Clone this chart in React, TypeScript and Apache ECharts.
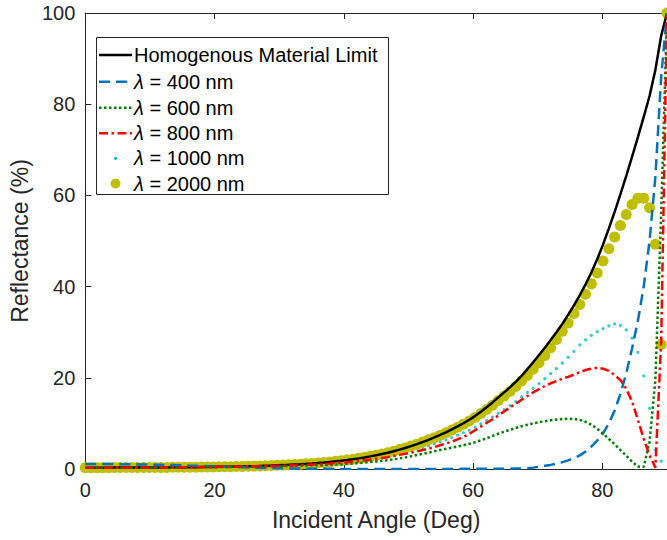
import React, { useEffect, useRef } from "react";
import * as echarts from "echarts";

// Incident angle sampling grid (deg)
const angles = [
  0, 0.9, 1.8, 2.7, 3.6, 4.5, 5.4, 6.3, 7.2, 8.1,
  9, 9.9, 10.8, 11.7, 12.6, 13.5, 14.4, 15.3, 16.2, 17.1,
  18, 18.9, 19.8, 20.7, 21.6, 22.5, 23.4, 24.3, 25.2, 26.1,
  27, 27.9, 28.8, 29.7, 30.6, 31.5, 32.4, 33.3, 34.2, 35.1,
  36, 36.9, 37.8, 38.7, 39.6, 40.5, 41.4, 42.3, 43.2, 44.1,
  45, 45.9, 46.8, 47.7, 48.6, 49.5, 50.4, 51.3, 52.2, 53.1,
  54, 54.9, 55.8, 56.7, 57.6, 58.5, 59.4, 60.3, 61.2, 62.1,
  63, 63.9, 64.8, 65.7, 66.6, 67.5, 68.4, 69.3, 70.2, 71.1,
  72, 72.9, 73.8, 74.7, 75.6, 76.5, 77.4, 78.3, 79.2, 80.1,
  81, 81.9, 82.8, 83.7, 84.6, 85.5, 86.4, 87.3, 88.2, 89.1,
  90,
];

const homogenous = [
  0.30, 0.30, 0.30, 0.30, 0.30, 0.31, 0.31, 0.31, 0.32, 0.32,
  0.33, 0.33, 0.34, 0.34, 0.35, 0.36, 0.37, 0.38, 0.39, 0.40,
  0.42, 0.43, 0.45, 0.47, 0.49, 0.51, 0.54, 0.57, 0.60, 0.63,
  0.67, 0.71, 0.75, 0.80, 0.85, 0.91, 0.98, 1.05, 1.13, 1.22,
  1.32, 1.43, 1.55, 1.68, 1.82, 1.97, 2.14, 2.33, 2.54, 2.77,
  3.02, 3.29, 3.58, 3.90, 4.25, 4.62, 5.02, 5.45, 5.91, 6.40,
  6.92, 7.47, 8.05, 8.67, 9.33, 10.03, 10.8, 11.6, 12.55, 13.55,
  14.6, 15.7, 16.8, 17.9, 19.1, 20.4, 21.9, 23.4, 25.0, 26.6,
  28.3, 30.0, 31.8, 33.8, 35.9, 38.1, 40.5, 43.1, 46.0, 49.2,
  52.7, 56.4, 60.3, 64.3, 68.5, 72.8, 77.2, 81.8, 87.5, 95.0,
  100,
];

const r400 = [
  1.10, 1.10, 1.10, 1.09, 1.08, 1.07, 1.06, 1.05, 1.03, 1.01,
  0.99, 0.97, 0.94, 0.91, 0.88, 0.85, 0.82, 0.78, 0.74, 0.70,
  0.66, 0.62, 0.58, 0.54, 0.50, 0.46, 0.42, 0.38, 0.34, 0.30,
  0.27, 0.24, 0.21, 0.18, 0.15, 0.13, 0.11, 0.09, 0.07, 0.06,
  0.05, 0.04, 0.03, 0.03, 0.02, 0.02, 0.02, 0.02, 0.02, 0.02,
  0.02, 0.02, 0.02, 0.02, 0.02, 0.02, 0.02, 0.02, 0.02, 0.02,
  0.02, 0.02, 0.02, 0.02, 0.02, 0.03, 0.03, 0.03, 0.04, 0.04,
  0.05, 0.06, 0.07, 0.08, 0.10, 0.12, 0.16, 0.30, 0.50, 0.70,
  0.90, 1.20, 1.50, 1.90, 2.40, 3.00, 3.80, 4.90, 6.20, 7.80,
  10.0, 12.8, 16.5, 21.0, 26.5, 32.5, 40.0, 50.0, 64.0, 86.0,
  100,
];

const r600 = [
  0.30, 0.30, 0.30, 0.30, 0.30, 0.31, 0.31, 0.31, 0.32, 0.32,
  0.33, 0.33, 0.34, 0.34, 0.35, 0.36, 0.37, 0.38, 0.39, 0.40,
  0.41, 0.42, 0.43, 0.44, 0.45, 0.47, 0.48, 0.50, 0.51, 0.53,
  0.55, 0.57, 0.59, 0.61, 0.63, 0.66, 0.69, 0.72, 0.76, 0.80,
  0.80, 0.85, 0.90, 0.96, 1.03, 1.11, 1.20, 1.30, 1.41, 1.53,
  1.66, 1.80, 1.95, 2.12, 2.32, 2.55, 2.80, 3.05, 3.30, 3.58,
  3.88, 4.15, 4.42, 4.68, 4.95, 5.22, 5.52, 5.88, 6.30, 6.75,
  7.25, 7.72, 8.17, 8.60, 9.00, 9.38, 9.70, 10.0, 10.25, 10.48,
  10.68, 10.84, 10.96, 11.02, 10.98, 10.78, 10.35, 9.70, 8.80, 7.75,
  6.60, 5.40, 4.15, 2.90, 1.60, 0.55, 0.45, 6.0, 19.5, 56.0,
  100,
];

const r800 = [
  0.30, 0.30, 0.30, 0.30, 0.30, 0.31, 0.31, 0.31, 0.32, 0.32,
  0.33, 0.33, 0.34, 0.34, 0.35, 0.36, 0.37, 0.38, 0.39, 0.40,
  0.42, 0.43, 0.45, 0.47, 0.49, 0.51, 0.53, 0.55, 0.57, 0.59,
  0.60, 0.63, 0.66, 0.70, 0.74, 0.78, 0.83, 0.88, 0.94, 1.00,
  1.05, 1.13, 1.21, 1.30, 1.40, 1.50, 1.62, 1.75, 1.90, 2.05,
  2.20, 2.40, 2.60, 2.85, 3.10, 3.35, 3.60, 3.85, 4.15, 4.45,
  4.80, 5.20, 5.60, 6.00, 6.50, 7.00, 7.70, 8.50, 9.30, 10.1,
  10.9, 11.7, 12.6, 13.5, 14.3, 15.2, 16.0, 16.8, 17.5, 18.2,
  18.8, 19.3, 19.8, 20.2, 20.7, 21.2, 21.7, 22.0, 22.2, 22.0,
  21.5, 20.6, 19.5, 17.6, 14.8, 10.8, 6.6, 3.0, 0.3, 28.0,
  100,
];

const r1000 = [
  0.30, 0.30, 0.30, 0.30, 0.30, 0.31, 0.31, 0.31, 0.32, 0.32,
  0.33, 0.33, 0.34, 0.34, 0.35, 0.36, 0.37, 0.38, 0.39, 0.40,
  0.42, 0.43, 0.45, 0.47, 0.49, 0.51, 0.53, 0.55, 0.57, 0.60,
  0.62, 0.65, 0.69, 0.73, 0.77, 0.82, 0.87, 0.93, 0.99, 1.06,
  1.14, 1.23, 1.33, 1.44, 1.56, 1.69, 1.84, 2.00, 2.17, 2.36,
  2.56, 2.77, 3.00, 3.24, 3.50, 3.78, 4.08, 4.40, 4.74, 5.10,
  5.50, 5.95, 6.40, 6.90, 7.40, 7.95, 8.55, 9.20, 9.90, 10.6,
  11.4, 12.2, 13.0, 13.9, 14.8, 15.8, 16.8, 17.7, 18.7, 19.8,
  20.9, 22.0, 23.2, 24.5, 25.8, 27.2, 28.3, 29.3, 30.1, 30.8,
  31.4, 31.8, 31.5, 30.5, 28.7, 25.6, 20.4, 13.3, 4.2, 1.7,
  100,
];

const r2000 = [
  0.30, 0.30, 0.30, 0.30, 0.30, 0.31, 0.31, 0.31, 0.32, 0.32,
  0.33, 0.33, 0.34, 0.34, 0.35, 0.36, 0.37, 0.38, 0.39, 0.40,
  0.42, 0.43, 0.45, 0.47, 0.49, 0.51, 0.54, 0.57, 0.60, 0.63,
  0.67, 0.71, 0.75, 0.80, 0.85, 0.91, 0.98, 1.05, 1.13, 1.22,
  1.32, 1.43, 1.55, 1.68, 1.82, 1.97, 2.14, 2.33, 2.54, 2.77,
  3.02, 3.29, 3.58, 3.90, 4.25, 4.62, 5.02, 5.45, 5.91, 6.40,
  6.85, 7.38, 7.94, 8.53, 9.16, 9.83, 10.55, 11.3, 12.15, 13.05,
  14.0, 15.0, 16.0, 17.0, 18.1, 19.3, 20.5, 21.9, 23.3, 24.9,
  26.6, 28.4, 30.2, 32.0, 34.1, 36.1, 38.3, 40.6, 43.0, 45.6,
  48.3, 50.9, 53.4, 55.8, 58.0, 59.4, 59.4, 57.3, 49.3, 27.3,
  100,
];

const seriesNames = [
  "Homogenous Material Limit",
  "λ = 400 nm",
  "λ = 600 nm",
  "λ = 800 nm",
  "λ = 1000 nm",
  "λ = 2000 nm",
];
const legendLabels = [
  "Homogenous Material Limit",
  "{l|λ} = 400 nm",
  "{l|λ} = 600 nm",
  "{l|λ} = 800 nm",
  "{l|λ} = 1000 nm",
  "{l|λ} = 2000 nm",
];
const colors = ["#000000", "#0072BD", "#008000", "#FF0000", "#00BFBF", "#BFBF00"];
const dashes: any[] = [null, [11, 6], [2.5, 2.5], [9, 3.5, 2.5, 3.5]];

const FONT = "'Liberation Sans', Arial, Helvetica, sans-serif";
const AX = "#262626";

function pairs(vals: number[]) {
  return angles.map((a, i) => [a, vals[i]]);
}

function buildLegend() {
  const left = 96.5;
  const top = 37.5;
  const rowY = [55, 81.7, 107.7, 133.3, 158.3, 183.5];
  const x1 = 99;
  const x2 = 132;
  const textX = 134;
  const children: any[] = [
    {
      type: "rect",
      shape: { x: left, y: top, width: 292, height: 157 },
      style: { fill: "#ffffff", stroke: AX, lineWidth: 1 },
    },
  ];
  for (let k = 0; k < 4; k++) {
    children.push({
      type: "line",
      shape: { x1, y1: rowY[k], x2: k === 1 ? 127 : x2, y2: rowY[k] },
      style: {
        stroke: colors[k],
        lineWidth: 2.5,
        lineDash: dashes[k] || undefined,
      },
    });
  }
  children.push({
    type: "circle",
    shape: { cx: 115.5, cy: rowY[4], r: 1.6 },
    style: { fill: colors[4] },
  });
  children.push({
    type: "circle",
    shape: { cx: 115.5, cy: rowY[5], r: 5 },
    style: { fill: colors[5] },
  });
  for (let k = 0; k < 6; k++) {
    children.push({
      type: "text",
      style: {
        text: legendLabels[k],
        x: textX,
        y: rowY[k],
        fill: "#000000",
        fontSize: 20,
        fontFamily: FONT,
        verticalAlign: "middle",
        align: "left",
        rich: {
          l: { fontStyle: "italic", fontSize: 20, fontFamily: FONT, fill: "#000000" },
        },
      },
    });
  }
  return [{ type: "group", z: 100, children }];
}

export default function App() {
  const ref = useRef<HTMLDivElement>(null);
  useEffect(() => {
    document.body.style.margin = "0";
    if (!ref.current) return;
    const chart = echarts.init(ref.current, undefined, { renderer: "svg" });
    const axisCommon = {
      type: "value",
      axisLine: { show: true, lineStyle: { color: AX, width: 1 } },
      axisTick: { show: true, inside: true, length: 6, lineStyle: { color: AX, width: 1 } },
      splitLine: { show: false },
    };
    const lineSeries = [homogenous, r400, r600, r800].map((vals, k) => ({
      type: "line",
      name: seriesNames[k],
      data: pairs(vals),
      symbol: "none",
      showSymbol: false,
      lineStyle: {
        color: colors[k],
        width: 2.5,
        type: dashes[k] || "solid",
        cap: "butt",
      },
      itemStyle: { color: colors[k] },
    }));
    chart.setOption({
      animation: false,
      backgroundColor: "#ffffff",
      textStyle: { fontFamily: FONT },
      grid: { left: 84, top: 13, width: 586, height: 456, containLabel: false },
      xAxis: [
        {
          ...axisCommon,
          position: "bottom",
          min: 0,
          max: 90,
          interval: 20,
          name: "Incident Angle (Deg)",
          nameLocation: "middle",
          nameGap: 39,
          nameTextStyle: { fontSize: 23, color: AX, fontFamily: FONT },
          axisLabel: { fontSize: 20, color: AX, margin: 11, showMaxLabel: false, fontFamily: FONT },
        },
        {
          ...axisCommon,
          position: "top",
          min: 0,
          max: 90,
          interval: 20,
          axisLabel: { show: false },
        },
      ],
      yAxis: [
        {
          ...axisCommon,
          position: "left",
          min: 0,
          max: 100,
          interval: 20,
          name: "Reflectance (%)",
          nameLocation: "middle",
          nameGap: 50,
          nameRotate: 90,
          nameTextStyle: { fontSize: 23, color: AX, fontFamily: FONT },
          axisLabel: { fontSize: 20, color: AX, margin: 10, fontFamily: FONT },
        },
      ],
      series: [
        ...lineSeries,
        {
          type: "scatter",
          name: seriesNames[4],
          data: pairs(r1000),
          symbol: "circle",
          symbolSize: 3.2,
          itemStyle: { color: colors[4] },
        },
        {
          type: "scatter",
          name: seriesNames[5],
          data: pairs(r2000),
          symbol: "circle",
          symbolSize: 11,
          itemStyle: { color: colors[5], opacity: 1 },
        },
      ],
      graphic: buildLegend(),
    });
    return () => chart.dispose();
  }, []);
  return <div ref={ref} style={{ width: 667, height: 540 }} />;
}
